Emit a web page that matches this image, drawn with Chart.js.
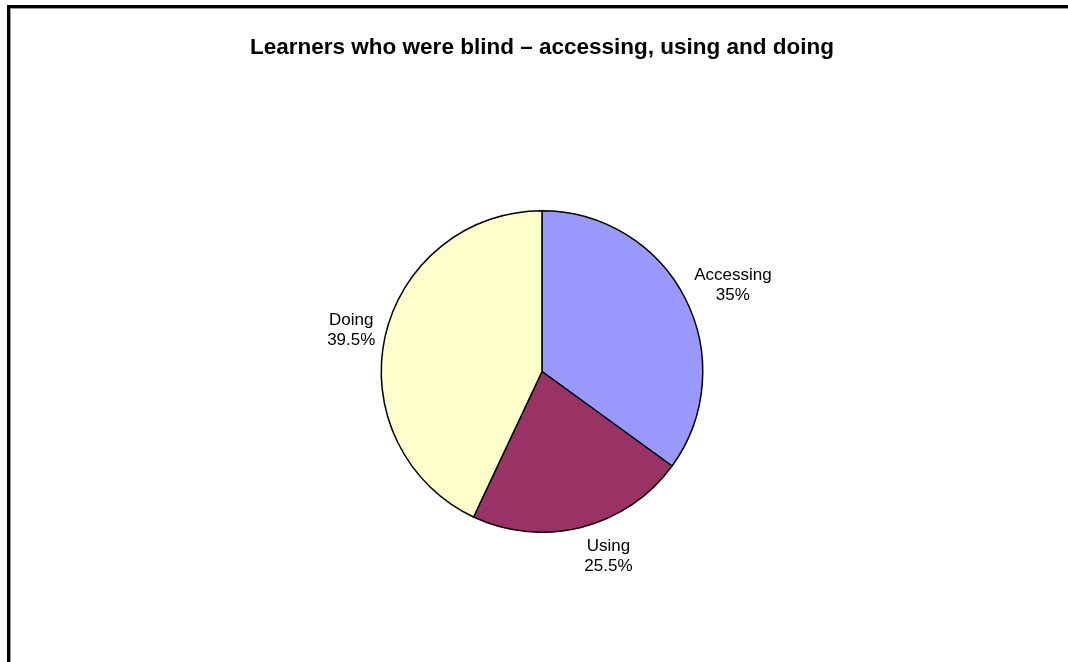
<!DOCTYPE html>
<html>
<head>
<meta charset="utf-8">
<title>Learners who were blind</title>
<script src="https://cdn.jsdelivr.net/npm/chart.js@4.4.0/dist/chart.umd.min.js"></script>
<style>
  html, body { margin: 0; padding: 0; background: #fff; overflow: hidden; }
  #wrap { position: relative; width: 1068px; height: 662px; }
  #pieChart { position: absolute; left: 0; top: 0; }
  #frame {
    position: absolute; left: 7px; top: 5px; width: 1200px; height: 800px;
    border-left: 3px solid #000; border-top: 3px solid #000;
    box-shadow: inset 1px 1px 0 #999; pointer-events: none;
  }
</style>
</head>
<body>
<div id="wrap">
  <canvas id="pieChart" width="1068" height="662"></canvas>
  <div id="frame"></div>
</div>
<script>
var chartTitle = 'Learners who were blind \u2013 accessing, using and doing';
var categories = ['Accessing', 'Using', 'Doing'];
// slice sizes as drawn in the picture
var sliceValues = [35, 22, 43];
// percentages printed on the labels
var labelPercents = ['35%', '25.5%', '39.5%'];
var colors = ['#9999FF', '#993366', '#FFFFCC'];

var labelFont = '17px Arial, "Liberation Sans", sans-serif';

// draws "Name\nxx%" outside each slice, like an Excel data label
var outsideLabels = {
    id: 'outsideLabels',
    afterDatasetsDraw: function (chart) {
        var ctx = chart.ctx;
        var meta = chart.getDatasetMeta(0);
        var lineH = 20;
        var gap = 10;
        ctx.save();
        ctx.font = labelFont;
        ctx.fillStyle = '#000';
        ctx.textAlign = 'center';
        ctx.textBaseline = 'middle';
        meta.data.forEach(function (arc, i) {
            var p = arc.getProps(['x', 'y', 'startAngle', 'endAngle', 'outerRadius'], true);
            var mid = (p.startAngle + p.endAngle) / 2;
            var dx = Math.cos(mid), dy = Math.sin(mid);
            var lines = [categories[i], labelPercents[i]];
            var w = Math.max.apply(null, lines.map(function (t) { return ctx.measureText(t).width; }));
            var h = lines.length * lineH;
            // box sits beside the anchor point, pushed sideways by half its width
            var sx = Math.sign(dx) * Math.min(1, Math.abs(dx) * 4);
            var cx = p.x + dx * (p.outerRadius + gap) + sx * w / 2;
            var cy = p.y + dy * (p.outerRadius + gap) + dy * h / 2;
            lines.forEach(function (t, j) {
                ctx.fillText(t, cx, cy - h / 2 + lineH * (j + 0.5));
            });
        });
        ctx.restore();
    }
};

var ctx = document.getElementById('pieChart').getContext('2d');
var pieChart = new Chart(ctx, {
    type: 'pie',
    data: {
        labels: categories,
        datasets: [{
            data: sliceValues,
            backgroundColor: colors,
            borderColor: '#000',
            borderWidth: 1.5,
            hoverOffset: 0
        }]
    },
    options: {
        responsive: false,
        animation: false,
        layout: {
            padding: { top: 0, bottom: 129, left: 16, right: 0 }
        },
        plugins: {
            legend: { display: false },
            tooltip: { enabled: false },
            title: {
                display: true,
                text: chartTitle,
                color: '#000',
                font: { family: 'Arial, "Liberation Sans", sans-serif', size: 22.5, weight: 'bold' },
                padding: { top: 34, bottom: 149 }
            }
        }
    },
    plugins: [outsideLabels]
});
</script>
</body>
</html>
